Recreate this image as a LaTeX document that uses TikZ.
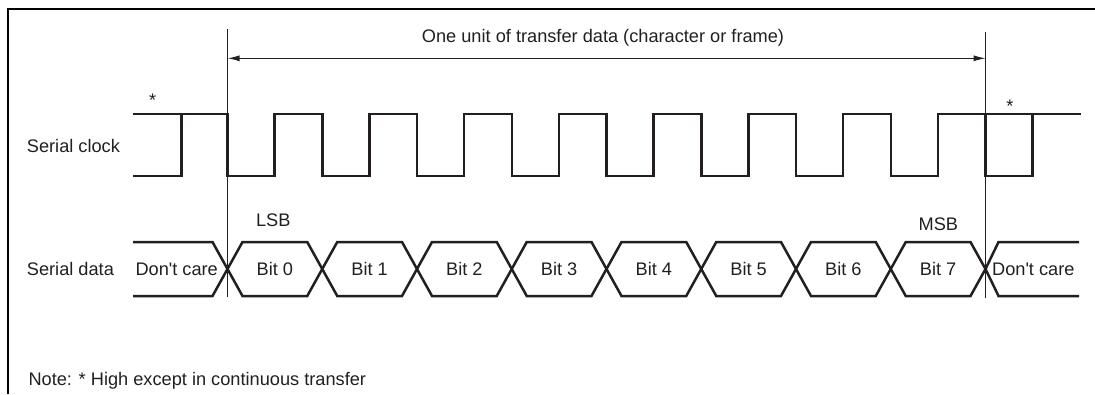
\documentclass[tikz,border=0pt]{standalone}
\usepackage{fontspec}
\setmainfont{Liberation Sans}
\usetikzlibrary{arrows.meta}
\definecolor{ink}{RGB}{35,31,32}
\begin{document}
\begin{tikzpicture}[x=1pt,y=-1pt,
  lbl/.style={inner sep=0pt, text=ink, font=\fontsize{18.2}{22}\selectfont},
  star/.style={inner sep=0pt, text=ink, font=\fontsize{18.2}{22}\selectfont},
  wave/.style={line width=2.5pt, line join=miter, draw=ink},
  guide/.style={line width=1.3pt, draw=ink},
  dim/.style={line width=1.1pt, draw=ink, {Latex[length=12pt,width=6pt]}-{Latex[length=12pt,width=6pt]}},
  frameline/.style={line width=2.4pt, draw=black}]
\useasboundingbox (0,0) rectangle (1095,394);
\def\per{94.75}
% partial frame
\draw[frameline] (8,394) -- (8,9) -- (1095,9);
% guide lines
\coordinate (vlt) at (227.5,29);
\coordinate (vlb) at (227.5,297);
\coordinate (vrt) at (985.7,32);
\coordinate (vrb) at (985.7,298);
\draw[guide] (vlt) -- (vlb);
\draw[guide] (vrt) -- (vrb);
\coordinate (al) at (227.5,58.3);
\coordinate (ar) at (985.7,58.3);
\draw[dim] (al) -- (ar);
\node[lbl, anchor=base] (unit) at (603,42) {One unit of transfer data (character or frame)};
% clock
\draw[wave] (133,114) -- (227.5,114)
  \foreach \k in {0,...,7} {
    -- ({227.5+\k*\per},176) -- ({227.5+\k*\per+47},176)
    -- ({227.5+\k*\per+47},114) -- ({227.5+(\k+1)*\per},114)
  } -- (1081,114);
\draw[wave] (133,176) -- (181.5,176) -- (181.5,114);
\draw[wave] (985.5,114) -- (985.5,176) -- (1032.5,176) -- (1032.5,114);
\node[star, anchor=base] (s1) at (152.7,106.5) {*};
\node[star, anchor=base] (s2) at (1010,112) {*};
\node[lbl, anchor=base west] (clk) at (26.7,152.5) {Serial clock};
% data
\draw[wave] (133,242) -- (212.5,242) -- (227.5,269) -- (212.5,296) -- (133,296);
\foreach \k in {0,...,7} {
  \pgfmathsetmacro\a{227.5+\k*\per}
  \pgfmathsetmacro\b{\a+\per}
  \draw[wave] (\a,269) -- (\a+15,242) -- (\b-15,242) -- (\b,269)
    -- (\b-15,296) -- (\a+15,296) -- cycle;
  \node[lbl, anchor=base] (b\k) at ({(\a+\b)/2},275.5) {Bit \k};
}
\draw[wave] (1079,242) -- (998.5,242) -- (985.5,269) -- (998.5,296) -- (1079,296);
\node[lbl, anchor=base] (dcl) at (176.7,275.5) {Don\textquotesingle t care};
\node[lbl, anchor=base] (dcr) at (1033.3,275.5) {Don\textquotesingle t care};
\node[lbl, anchor=base west] (dat) at (26.7,275.5) {Serial data};
\node[lbl, anchor=base] (lsb) at (273.3,226.5) {LSB};
\node[lbl, anchor=base] (msb) at (938.3,230.5) {MSB};
\node[lbl, anchor=base west] (note) at (28.3,385) {Note: * High except in continuous transfer};
\end{tikzpicture}
\end{document}
